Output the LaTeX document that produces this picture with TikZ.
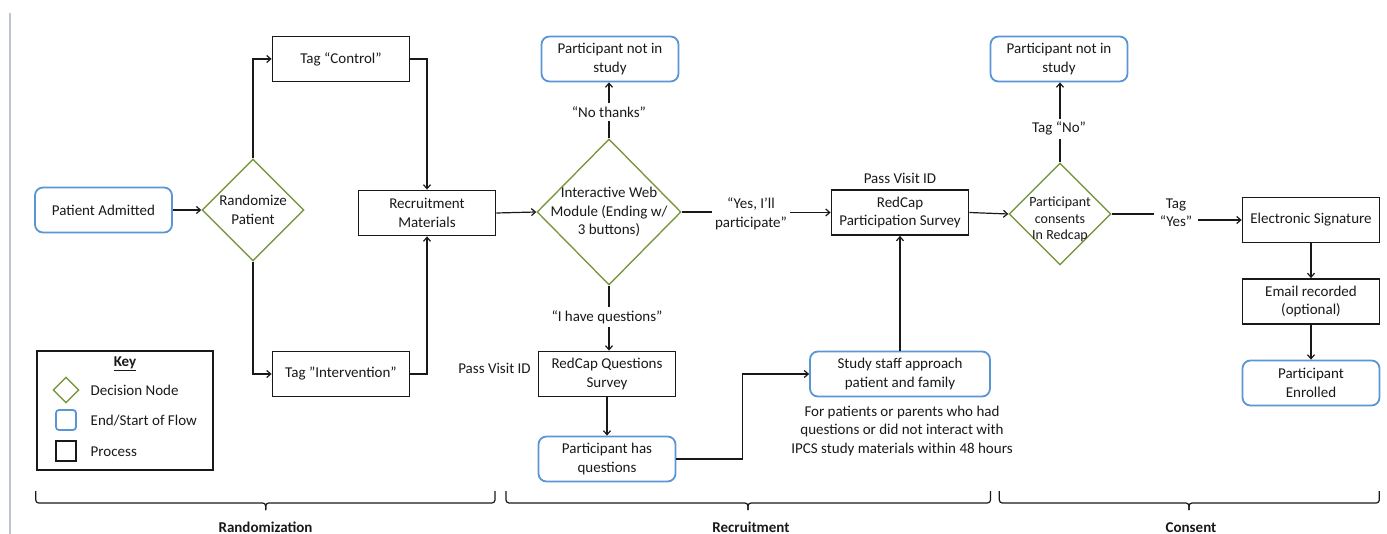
\documentclass[tikz,border=0pt]{standalone}
\usepackage{fontspec}
\setmainfont{Carlito}
\usetikzlibrary{shapes.geometric,arrows.meta}
\definecolor{flowblue}{RGB}{91,150,212}
\definecolor{decgreen}{RGB}{122,152,66}
\definecolor{ink}{RGB}{25,25,25}
\definecolor{sidegray}{RGB}{190,196,206}
\begin{document}
\begin{tikzpicture}[x=1pt,y=-1pt, font=\fontsize{15}{18.4}\selectfont, text=ink,
  proc/.style={draw=ink, line width=1.8pt, minimum width=137pt, minimum height=45pt, inner sep=0pt, align=center},
  term/.style={draw=flowblue, line width=1.8pt, rounded corners=8pt, minimum width=137pt, minimum height=45pt, inner sep=0pt, align=center},
  decision/.style={diamond, draw=decgreen, line width=1.4pt, inner sep=-20pt, align=center},
  conn/.style={draw=ink, line width=1.2pt},
  arr/.style={conn, -{Straight Barb[length=4pt,width=7pt]}},
  lbl/.style={inner xsep=3pt, inner ysep=3pt, align=center},
  sect/.style={font=\fontsize{15}{18.4}\selectfont\bfseries, anchor=base},
  brace/.style={draw=ink, line width=1.2pt, rounded corners=3pt},
  keytext/.style={anchor=west, inner xsep=0pt}]
\useasboundingbox (0,0) rectangle (1387,534);
\draw[sidegray, line width=1.5pt] (10,13) -- (10,534);

% Randomization
\node[term] (pa) at (103.5,210) {Patient Admitted};
\node[decision, minimum width=102pt, minimum height=102pt] (rand) at (253,210) {Randomize\\Patient};
\node[proc] (ctrl) at (341,59) {Tag “Control”};
\node[proc] (interv) at (341,374) {Tag ”Intervention”};
\node[proc] (recm) at (427,213) {Recruitment\\Materials};

% Key
\node[draw=ink, line width=1.8pt, minimum width=176pt, minimum height=119pt, inner sep=0pt] (key) at (125,410.5) {};
\node (keyt) at (125,364) {\textbf{\underline{Key}}};
\node[diamond, draw=decgreen, line width=1.4pt, minimum width=26pt, minimum height=26pt, inner sep=0pt] (kd) at (66,390) {};
\node[draw=flowblue, line width=1.8pt, rounded corners=3pt, minimum size=20pt, inner sep=0pt] (kt) at (66,420) {};
\node[draw=ink, line width=1.8pt, minimum size=20pt, inner sep=0pt] (kp) at (66,451) {};
\node[keytext] (kdl) at (90.5,390) {Decision Node};
\node[keytext] (ktl) at (90.5,420.5) {End/Start of Flow};
\node[keytext] (kpl) at (90.5,451.5) {Process};

% Recruitment
\node[term] (pnis1) at (610,59) {Participant not in\\study};
\node[decision, minimum width=144pt, minimum height=146pt] (web) at (609,212) {Interactive Web\\Module (Ending w/\\3 buttons)};
\node[lbl] (nothx) at (609,112) {“No thanks”};
\node[lbl] (yesl) at (751,214) {“Yes, I’ll\\participate”};
\node[lbl] (haveq) at (607,317) {“I have questions”};
\node[proc] (rqs) at (607,374) {RedCap Questions\\Survey};
\node (pv1) at (494.5,368) {Pass Visit ID};
\node[term] (phq) at (607,459) {Participant has\\questions};
\node[term, minimum width=180pt] (staff) at (900,374) {Study staff approach\\patient and family};
\node[align=center] (note) at (902,431) {For patients or parents who had\\questions or did not interact with\\IPCS study materials within 48 hours};
\node[proc] (rps) at (900,212.5) {RedCap\\Participation Survey};
\node (pv2) at (900,178.5) {Pass Visit ID};
\coordinate (bend) at (742.6,459);

% Consent
\node[decision, minimum width=102pt, minimum height=102pt, font=\fontsize{14}{16.5}\selectfont] (cons) at (1060,214) {\rule{0pt}{21pt}Participant\\consents\\In Redcap};
\node[lbl] (nol) at (1059,128.7) {Tag “No”};
\node[term] (pnis2) at (1059,59) {Participant not in\\study};
\node[lbl, inner xsep=6pt] (yes2) at (1176,213) {Tag\\“Yes”};
\node[proc] (esig) at (1311,220) {Electronic Signature};
\node[proc] (email) at (1311,301.5) {Email recorded\\(optional)};
\node[term] (enr) at (1311,383) {Participant\\Enrolled};

% connectors
\draw[arr] (pa.east) -- (rand.west);
\draw[arr] (rand.north) |- (ctrl.west);
\draw[arr] (rand.south) |- (interv.west);
\draw[arr] (ctrl.east) -| (recm.north);
\draw[arr] (interv.east) -| (recm.south);
\draw[arr] (recm.east) -- (web.west);
\draw[conn] (web.north) -- (web.north |- nothx.south);
\draw[arr] (web.north |- nothx.north) -- (web.north |- pnis1.south);
\draw[conn] (web.south) -- (web.south |- haveq.north);
\draw[arr] (web.south |- haveq.south) -- (web.south |- rqs.north);
\draw[conn] (web.east) -- (yesl.west |- web.east);
\draw[arr] (yesl.east |- rps.west) -- (rps.west);
\draw[arr] (rqs) -- (phq);
\draw[arr] (phq.east) -- (bend) |- (staff.west);
\draw[arr] (staff.north) -- (rps.south);
\draw[arr] (rps.east) -- (cons.west);
\draw[conn] (cons.north) -- (cons.north |- nol.south);
\draw[arr] (cons.north |- nol.north) -- (cons.north |- pnis2.south);
\draw[conn] (cons.east) -- (yes2.west |- cons.east);
\draw[arr] (yes2.east |- esig.west) -- (esig.west);
\draw[arr] (esig) -- (email);
\draw[arr] (email) -- (enr);

% braces
\draw[brace] (35.7,491) -- (35.7,503) -- (265.7,503) -- (265.7,510);
\draw[brace] (265.7,510) -- (265.7,503) -- (495,503) -- (495,491);
\draw[brace] (506,491) -- (506,503) -- (748,503) -- (748,510);
\draw[brace] (748,510) -- (748,503) -- (990.5,503) -- (990.5,491);
\draw[brace] (999.3,491) -- (999.3,503) -- (1189,503) -- (1189,510);
\draw[brace] (1189,510) -- (1189,503) -- (1379.3,503) -- (1379.3,491);
\node[sect, inner sep=0pt] (s1) at (265.5,532.5) {Randomization};
\node[sect, inner sep=0pt] (s2) at (751,532.5) {Recruitment};
\node[sect, inner sep=0pt] (s3) at (1191,532.5) {Consent};
\end{tikzpicture}
\end{document}
